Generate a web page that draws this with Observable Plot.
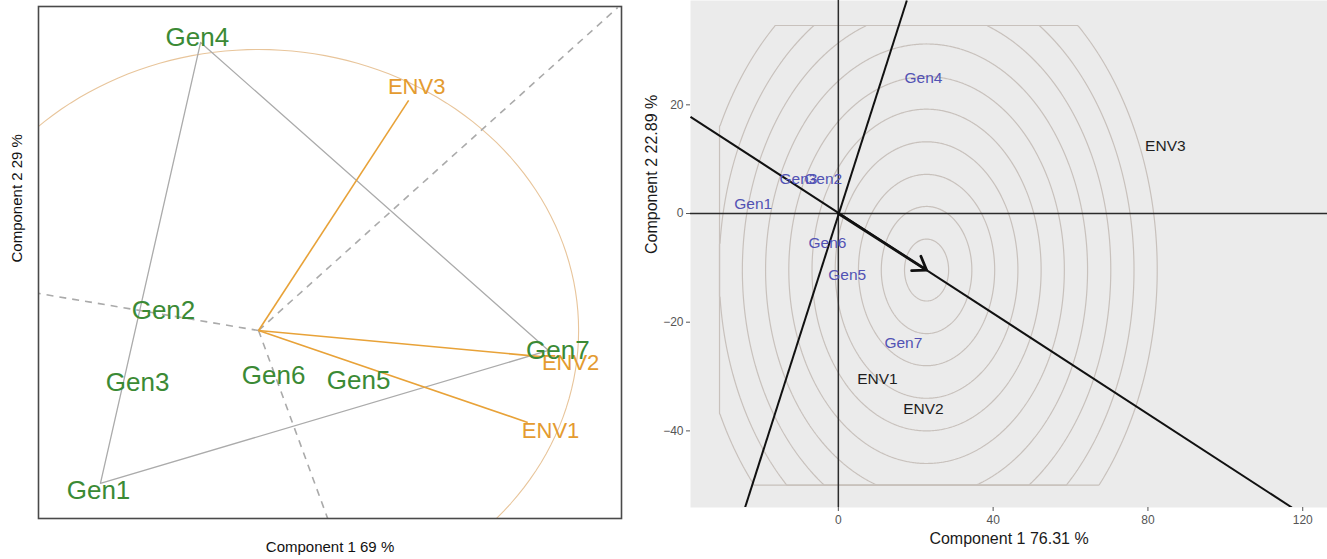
<!DOCTYPE html>
<html><head><meta charset="utf-8">
<script src="https://cdn.jsdelivr.net/npm/d3@7"></script>
<script src="https://cdn.jsdelivr.net/npm/@observablehq/plot@0.6"></script>
<style>
body{margin:0;background:#fff;}
#wrap{position:relative;width:1327px;height:559px;overflow:hidden;font-family:"Liberation Sans",Arial,sans-serif;}
#left{position:absolute;left:0;top:0;}
#right{position:absolute;left:640px;top:0;}
</style></head><body><div id="wrap"><div id="left"></div><div id="right"></div></div>
<script>
// ---------- Left panel (GGE "which-won-where") ----------
const genotypes = ["Gen1","Gen2","Gen3","Gen4","Gen5","Gen6","Gen7"];
const genLabelXA = [-0.500,-0.297,-0.378,-0.191,0.3125,0.047,0.935];
const genLabelYA = [-0.569,0.071,-0.185,1.043,-0.178,-0.160,-0.071];
const environments = ["ENV1","ENV2","ENV3"];
const envEndXA = [0.841,0.881,0.469];
const envEndYA = [-0.327,-0.093,0.819];
const envLabelXA = [0.9125,0.975,0.494];
const envLabelYA = [-0.359,-0.117,0.865];
const hullGenotypes = ["Gen1","Gen4","Gen7","Gen1"];
const hullXA = [-0.494,-0.181,0.906,-0.494];
const hullYA = [-0.544,1.025,-0.071,-0.544];
const sectorEndXA = [1.122,-0.6875,0.216];
const sectorEndYA = [1.149,0.132,-0.669];
const circleRadiusA = 1;
const circleAngles = d3.range(0, 361, 2);
const xTitleA = "Component 1 69 %";
const yTitleA = "Component 2 29 %";

// ---------- Right panel (ranking biplot) ----------
const genXB = [-22.0,-3.9,-10.3,22.0,2.3,-2.8,16.8];
const genYB = [1.8,6.4,6.4,24.9,-11.4,-5.5,-23.8];
const envXB = [10.1,22.0,84.5];
const envYB = [-30.4,-35.9,12.5];
const aeaLineX = [-38.2,117.2];
const aeaLineY = [17.8,-54.1];
const atcLineX = [-24.1,17.7];
const atcLineY = [-54.1,39.2];
const idealPoint = [22.8,-10.4];
const ringRadii = [5.7,11.7,17.6,23.6,29.6,35.6,41.6,47.6,53.6,59.6];
const ringGridX = [-30.7,95];
const ringGridY = [-50.0,34.6];
const xTicksB = [0,40,80,120];
const yTicksB = [20,0,-20,-40];
const xTitleB = "Component 1 76.31 %";
const yTitleB = "Component 2 22.89 %";

const FONT = "Liberation Sans, Arial, sans-serif";
const idx = (arr) => arr.map((_, i) => i);

const left = Plot.plot({
  width: 630, height: 559,
  marginLeft: 38, marginTop: 6, marginRight: 9, marginBottom: 41,
  x: {domain: [-0.6875, 1.134], axis: null},
  y: {domain: [-0.669, 1.153], axis: null},
  style: {fontFamily: FONT, background: "transparent", overflow: "visible"},
  marks: [
    Plot.line(circleAngles, {
      x: a => circleRadiusA * Math.cos(a * Math.PI / 180),
      y: a => circleRadiusA * Math.sin(a * Math.PI / 180),
      stroke: "#e8c59b", strokeWidth: 1.1, clip: true
    }),
    Plot.link(idx(sectorEndXA), {
      x1: () => 0, y1: () => 0,
      x2: i => sectorEndXA[i], y2: i => sectorEndYA[i],
      stroke: "#aaaaaa", strokeWidth: 1.6, strokeDasharray: "7,6", clip: true
    }),
    Plot.line(idx(hullXA), {
      x: i => hullXA[i], y: i => hullYA[i],
      stroke: "#ababab", strokeWidth: 1.3
    }),
    Plot.link(idx(envEndXA), {
      x1: () => 0, y1: () => 0,
      x2: i => envEndXA[i], y2: i => envEndYA[i],
      stroke: "#e8a238", strokeWidth: 1.6
    }),
    Plot.text(environments, {
      x: (d, i) => envLabelXA[i], y: (d, i) => envLabelYA[i], text: d => d,
      fill: "#e49b30", fontSize: 22, fontFamily: FONT
    }),
    Plot.text(genotypes, {
      x: (d, i) => genLabelXA[i], y: (d, i) => genLabelYA[i], text: d => d,
      fill: "#3b8a35", fontSize: 26, fontFamily: FONT
    }),
    Plot.frame({stroke: "#4a4a4a", strokeWidth: 1.6}),
    Plot.text([xTitleA], {frameAnchor: "bottom", dy: 33, text: d => d, fill: "#111", fontSize: 15, fontFamily: FONT}),
    Plot.text([yTitleA], {frameAnchor: "left", dx: -21, rotate: -90, text: d => d, fill: "#111", fontSize: 15, fontFamily: FONT})
  ]
});
document.getElementById("left").appendChild(left);

const right = Plot.plot({
  width: 687, height: 559,
  marginLeft: 50, marginTop: 0, marginRight: 0, marginBottom: 52,
  x: {domain: [-38.2, 126.4]},
  y: {domain: [-54.1, 39.2]},
  style: {fontFamily: FONT, background: "transparent", overflow: "visible"},
  marks: [
    Plot.frame({fill: "#ebebeb", stroke: "none"}),
    Plot.contour({
      value: (x, y) => -Math.hypot(x - idealPoint[0], y - idealPoint[1]),
      x1: ringGridX[0], x2: ringGridX[1], y1: ringGridY[0], y2: ringGridY[1],
      thresholds: ringRadii.map(r => -r),
      stroke: "#c8c1bc", fill: "none", strokeWidth: 1.2, pixelSize: 1
    }),
    Plot.ruleY([0], {stroke: "#2b2b2b", strokeWidth: 1.5}),
    Plot.ruleX([0], {stroke: "#2b2b2b", strokeWidth: 1.5}),
    Plot.link([0], {x1: () => aeaLineX[0], y1: () => aeaLineY[0], x2: () => aeaLineX[1], y2: () => aeaLineY[1], stroke: "#111", strokeWidth: 2, clip: true}),
    Plot.link([0], {x1: () => atcLineX[0], y1: () => atcLineY[0], x2: () => atcLineX[1], y2: () => atcLineY[1], stroke: "#111", strokeWidth: 2, clip: true}),
    Plot.arrow([0], {x1: () => 0, y1: () => 0, x2: () => idealPoint[0], y2: () => idealPoint[1], stroke: "#111", strokeWidth: 2.8, headLength: 8, headAngle: 70}),
    Plot.text(genotypes, {
      x: (d, i) => genXB[i], y: (d, i) => genYB[i], text: d => d,
      fill: "#5252b4", fontSize: 15.5, fontFamily: FONT
    }),
    Plot.text(environments, {
      x: (d, i) => envXB[i], y: (d, i) => envYB[i], text: d => d,
      fill: "#1e1e1e", fontSize: 15.5, fontFamily: FONT
    }),
    Plot.axisX({ticks: xTicksB, tickSize: 4, tickPadding: 4, label: null, fontSize: 12, color: "#555"}),
    Plot.axisY({ticks: yTicksB, tickSize: 4, tickPadding: 3, label: null, fontSize: 12, color: "#555"}),
    Plot.text([xTitleB], {frameAnchor: "bottom", dy: 36, text: d => d, fill: "#1a1a1a", fontSize: 16, fontFamily: FONT}),
    Plot.text([yTitleB], {frameAnchor: "left", dx: -39, rotate: -90, text: d => d, fill: "#1a1a1a", fontSize: 16, fontFamily: FONT})
  ]
});
document.getElementById("right").appendChild(right);
</script></body></html>
